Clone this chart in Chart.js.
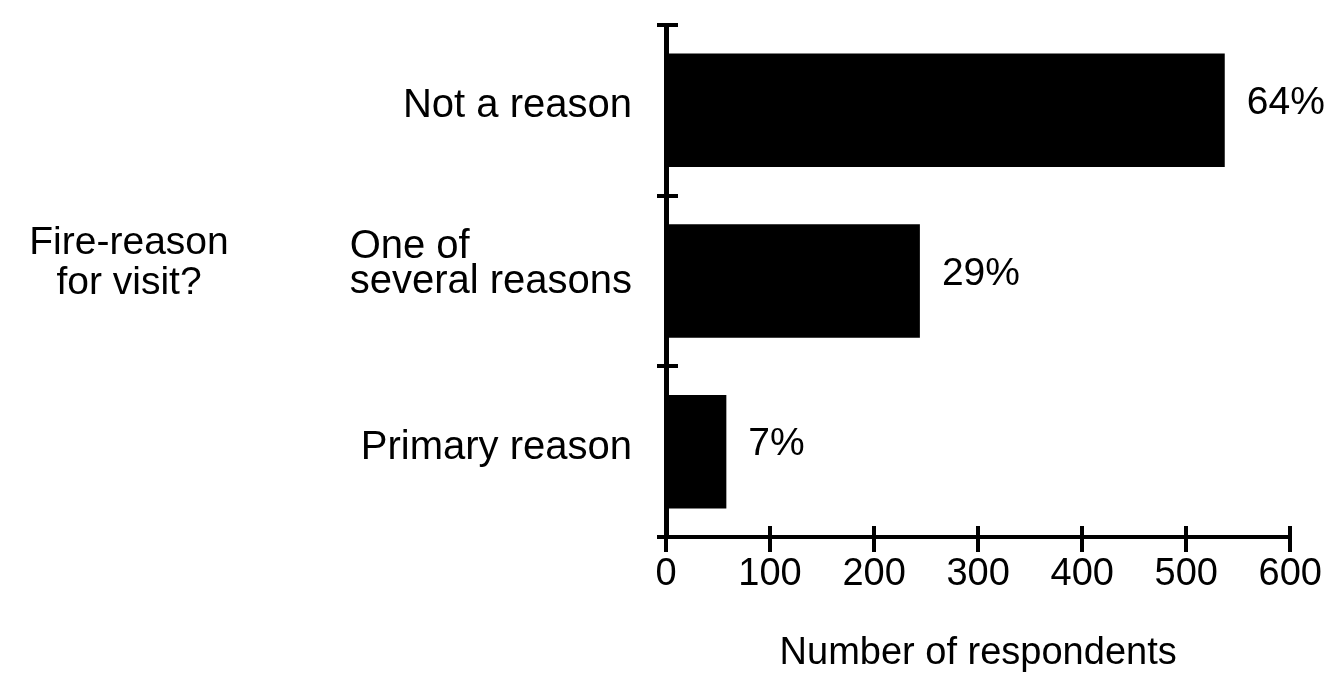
<!DOCTYPE html>
<html>
<head>
<meta charset="utf-8">
<script src="https://cdn.jsdelivr.net/npm/chart.js@4.4.1/dist/chart.umd.min.js"></script>
<style>
  html, body { margin: 0; padding: 0; background: #fff; }
  #wrap { width: 1337px; height: 673px; }
</style>
</head>
<body>
<div id="wrap"><canvas id="c" width="1337" height="673"></canvas></div>
<script>
// ---- data ----
const categories = [['Not a reason'], ['One of', 'several reasons'], ['Primary reason']];
const respondents = [537, 244, 58];
const percentLabels = ['64%', '29%', '7%'];
const sideLabel = ['Fire-reason', 'for visit?'];
const xTitle = 'Number of respondents';
const xMin = 0, xMax = 600, xStep = 100;

const FONT = '"Liberation Sans", Arial, Helvetica, sans-serif';

const drawExtras = {
  id: 'drawExtras',
  afterDraw(chart) {
    const ctx = chart.ctx;
    const xs = chart.scales.x, ys = chart.scales.y;
    const area = chart.chartArea;
    ctx.save();
    ctx.strokeStyle = '#000';
    ctx.fillStyle = '#000';
    ctx.lineWidth = 4;
    ctx.lineCap = 'butt';
    // x tick marks crossing the axis
    xs.ticks.forEach((t, i) => {
      const px = Math.round(xs.getPixelForTick(i));
      ctx.beginPath();
      ctx.moveTo(px, area.bottom - 11);
      ctx.lineTo(px, area.bottom + 15);
      ctx.stroke();
    });
    // y boundary tick marks crossing the axis
    const n = categories.length;
    const band = ys.getPixelForValue(1) - ys.getPixelForValue(0);
    const first = ys.getPixelForValue(0) - band / 2;
    for (let i = 0; i <= n; i++) {
      const py = Math.round(first + i * band);
      ctx.beginPath();
      ctx.moveTo(area.left - 9, py);
      ctx.lineTo(area.left + 12, py);
      ctx.stroke();
    }
    // category labels: block right-aligned, lines left-aligned
    ctx.font = '40px ' + FONT;
    ctx.textBaseline = 'middle';
    ctx.textAlign = 'left';
    const lh = 35;
    categories.forEach((lines, i) => {
      const cy = ys.getPixelForValue(i) - (lines.length > 1 ? 17 : 4);
      const w = Math.max(...lines.map(l => ctx.measureText(l).width));
      const left = area.left - 34 - w;
      const y0 = cy - (lines.length - 1) * lh / 2;
      lines.forEach((l, k) => ctx.fillText(l, left, y0 + k * lh));
    });
    // value labels
    ctx.font = '39px ' + FONT;
    const meta = chart.getDatasetMeta(0);
    meta.data.forEach((bar, i) => {
      ctx.fillText(percentLabels[i], bar.x + 22, bar.y - 7);
    });
    // side label
    ctx.font = '39px ' + FONT;
    ctx.textAlign = 'center';
    const midY = ys.getPixelForValue(1) - 18;
    ctx.fillText(sideLabel[0], 129, midY - 20);
    ctx.fillText(sideLabel[1], 129, midY + 20);
    ctx.restore();
  }
};

new Chart(document.getElementById('c'), {
  type: 'bar',
  data: {
    labels: categories,
    datasets: [{
      data: respondents,
      backgroundColor: '#000',
      borderWidth: 0,
      categoryPercentage: 1,
      barPercentage: 0.665
    }]
  },
  options: {
    indexAxis: 'y',
    responsive: false,
    devicePixelRatio: 1,
    animation: false,
    layout: { padding: { top: 25, right: 45, bottom: 0, left: 0 } },
    plugins: { legend: { display: false }, tooltip: { enabled: false } },
    scales: {
      x: {
        min: xMin, max: xMax,
        ticks: {
          stepSize: xStep,
          color: '#000',
          font: { family: FONT, size: 38 },
          padding: 15
        },
        grid: { display: true, drawOnChartArea: false, drawTicks: false, color: 'rgba(0,0,0,0)' },
        border: { display: true, color: '#000', width: 4 },
        title: {
          display: true,
          text: xTitle,
          color: '#000',
          font: { family: FONT, size: 38, lineHeight: 1 },
          padding: { top: 0, bottom: 0 }
        },
        afterFit(scale) { scale.height = 136; }
      },
      y: {
        offset: true,
        ticks: { display: false },
        grid: { display: true, drawOnChartArea: false, drawTicks: false, color: 'rgba(0,0,0,0)' },
        border: { display: true, color: '#000', width: 5 },
        afterFit(scale) { scale.width = 666; }
      }
    }
  },
  plugins: [drawExtras]
});
</script>
</body>
</html>
